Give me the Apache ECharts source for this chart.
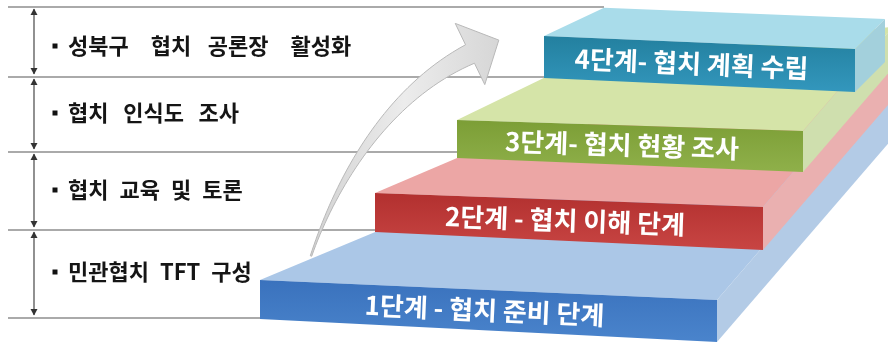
<!DOCTYPE html>
<html><head><meta charset="utf-8">
<script src="https://cdn.jsdelivr.net/npm/echarts@6/dist/echarts.min.js"></script>
<style>html,body{margin:0;padding:0;background:#fff}#c{width:888px;height:344px}</style>
</head><body><div id="c"></div>
<script>
// ---- data ----
const stageLevels = [1, 2, 3, 4];
const stageNames = ['1단계 - 협치 준비 단계', '2단계 - 협치 이해 단계', '3단계- 협치 현황 조사', '4단계- 협치 계획 수립'];
const activities = ['민관협치\u2002TFT\u2002구성', '협치\u2002교육\u2002및\u2002토론', '협치\u2002\u2006인식도\u2002\u2006조사', '성북구\u2003협치\u2002\u2005공론장\u2003활성화'];

// ---- layout (pixel space of the 888x344 canvas) ----
const bandEdges = [318, 230, 152, 77, 7];
const lineEnds = [260, 375, 457, 544, 604];
const textY = [272, 190, 113, 46];
const stepLayout = [
  {xl:260, ytl:280, ybl:319, xr:717, ytr:300, ybr:342, ls:0.417, ld:150, rs:1.16, rd:176, tdx:-4},
  {xl:375, ytl:193, ybl:232, xr:763, ytr:207, ybr:250, ls:0.427, ld:105, rs:1.16, rd:130, tdx:-4},
  {xl:457, ytl:120, ybl:158, xr:803, ytr:131, ybr:172, ls:0.483, ld:110, rs:1.16, rd:90, tdx:-8},
  {xl:544, ytl:36,  ybl:78,  xr:855, ytr:49,  ybr:92,  ls:0.47,  ld:60,  rs:1.0,  rd:30, tdx:-8}
];
const stepColors = [
  {f1:'#3a72bd', f2:'#4a84cc', top:'#abc7e7', side:'#b3cbe6'},
  {f1:'#b2302f', f2:'#c84543', top:'#eca6a5', side:'#eab0b0'},
  {f1:'#7c9e36', f2:'#8fb04a', top:'#d5e4a8', side:'#cfdfae'},
  {f1:'#23809f', f2:'#3397bd', top:'#a9dcea', side:'#a3d0dc'}
];

const chart = echarts.init(document.getElementById('c'), null, {renderer:'canvas'});

function renderBand(params, api) {
  const lv = api.value(0), i = lv - 1;
  const P = (x, y) => api.coord([x, y]);
  const yb = bandEdges[i], yt = bandEdges[i + 1];
  const ch = [];
  const hline = (y, xe) => {
    const a = P(8, y), b = P(xe, y);
    ch.push({type:'line', shape:{x1:a[0], y1:a[1], x2:b[0], y2:b[1]}, style:{stroke:'#aaaaaa', lineWidth:1.8}});
  };
  hline(yb, lineEnds[i]);
  if (lv === 4) hline(yt, lineEnds[4]);
  const ax = 34;
  const t1 = P(ax, yt + 2), t2 = P(ax, yb - 3);
  ch.push({type:'line', shape:{x1:t1[0], y1:t1[1], x2:t2[0], y2:t2[1]}, style:{stroke:'#555', lineWidth:1.3}});
  ch.push({type:'polygon', shape:{points:[P(ax, yt + 1.5), P(ax - 3.5, yt + 8), P(ax + 3.5, yt + 8)]}, style:{fill:'#333'}});
  ch.push({type:'polygon', shape:{points:[P(ax, yb - 2.5), P(ax - 3.5, yb - 9), P(ax + 3.5, yb - 9)]}, style:{fill:'#333'}});
  const b = P(52.5, textY[i] - 2.5);
  ch.push({type:'rect', shape:{x:b[0], y:b[1], width:5, height:5}, style:{fill:'#111'}});
  const tp = P(68, textY[i]);
  ch.push({type:'text', x:tp[0], y:tp[1], style:{text:activities[i], fill:'#151515',
    font:'bold 22px "Noto Sans CJK KR"', textAlign:'left', textVerticalAlign:'middle'}});
  return {type:'group', children:ch};
}

function renderArrow(params, api) {
  const P = (x, y) => api.coord([x, y]);
  const p0 = [311, 256], p1 = [335, 185], p2 = [385, 95], p3 = [470, 54];
  const bez = (t) => {
    const u = 1 - t;
    return [u*u*u*p0[0] + 3*u*u*t*p1[0] + 3*u*t*t*p2[0] + t*t*t*p3[0],
            u*u*u*p0[1] + 3*u*u*t*p1[1] + 3*u*t*t*p2[1] + t*t*t*p3[1]];
  };
  const der = (t) => {
    const u = 1 - t;
    return [3*u*u*(p1[0]-p0[0]) + 6*u*t*(p2[0]-p1[0]) + 3*t*t*(p3[0]-p2[0]),
            3*u*u*(p1[1]-p0[1]) + 6*u*t*(p2[1]-p1[1]) + 3*t*t*(p3[1]-p2[1])];
  };
  const L = [], R = [];
  const N = 40;
  for (let k = 0; k <= N; k++) {
    const t = k / N;
    const c = bez(t), d = der(t);
    const len = Math.hypot(d[0], d[1]);
    const n = [-d[1] / len, d[0] / len];
    const hw = (1.5 + 19 * Math.pow(t, 1.4)) / 2;
    L.push([c[0] + n[0] * hw, c[1] + n[1] * hw]);
    R.push([c[0] - n[0] * hw, c[1] - n[1] * hw]);
  }
  const d = der(1), len = Math.hypot(d[0], d[1]);
  const tg = [d[0] / len, d[1] / len], n = [-tg[1], tg[0]];
  const c1 = [p3[0] + n[0] * 34, p3[1] + n[1] * 34];
  const c2 = [p3[0] - n[0] * 34, p3[1] - n[1] * 34];
  const tip = [p3[0] + tg[0] * 32, p3[1] + tg[1] * 32];
  const pts = L.concat([c1, tip, c2]).concat(R.reverse()).map(p => P(p[0], p[1]));
  return {type:'polygon', shape:{points:pts},
    style:{fill:new echarts.graphic.LinearGradient(0, 0, 1, 0, [{offset:0, color:'#d2d2d2'}, {offset:0.5, color:'#ececec'}, {offset:1, color:'#d6d6d6'}]),
      stroke:'#b8b8b8', lineWidth:1}};
}

function renderStep(params, api) {
  const lv = api.value(0), i = lv - 1;
  const s = stepLayout[i], c = stepColors[i];
  const P = (p) => api.coord(p);
  const FTL = [s.xl, s.ytl], FBL = [s.xl, s.ybl], FTR = [s.xr, s.ytr], FBR = [s.xr, s.ybr];
  const BTL = [s.xl + s.ld, s.ytl - s.ls * s.ld];
  const BTR = [s.xr + s.rd, s.ytr - s.rs * s.rd];
  const BBR = [s.xr + s.rd, s.ybr - s.rs * s.rd];
  const poly = (pts, fill) => ({type:'polygon', shape:{points:pts.map(P)}, style:{fill:fill}});
  const ch = [];
  ch.push(poly([FTL, FTR, BTR, BTL], c.top));
  ch.push(poly([FTR, FBR, BBR, BTR], c.side));
  ch.push(poly([FTL, FTR, FBR, FBL], new echarts.graphic.LinearGradient(0, 0, 0, 1, [{offset:0, color:c.f1}, {offset:1, color:c.f2}])));
  const cx = (s.xl + s.xr) / 2 + s.tdx;
  const frac = (cx - s.xl) / (s.xr - s.xl);
  const cy = (s.ytl + (s.ytr - s.ytl) * frac + s.ybl + (s.ybr - s.ybl) * frac) / 2;
  const cp = P([cx, cy]);
  const ang = Math.atan2(s.ytr - s.ytl, s.xr - s.xl);
  ch.push({type:'text', x:cp[0], y:cp[1], rotation:-ang,
    style:{text:stageNames[i], fill:'#ffffff', font:'bold 26px "Noto Sans CJK KR"', textAlign:'center', textVerticalAlign:'middle'}});
  return {type:'group', children:ch};
}

chart.setOption({
  animation:false,
  grid:{left:0, right:0, top:0, bottom:0},
  xAxis:{type:'value', min:0, max:888, show:false},
  yAxis:{type:'value', min:0, max:344, inverse:true, show:false},
  series:[
    {type:'custom', name:'bands', renderItem:renderBand, data:stageLevels.map(v => [v]), clip:false, z:1},
    {type:'custom', name:'arrow', renderItem:renderArrow, data:[[0]], clip:false, z:2},
    {type:'custom', name:'steps', renderItem:renderStep, data:stageLevels.map(v => [v]), clip:false, z:3}
  ]
});
</script>
</body></html>
